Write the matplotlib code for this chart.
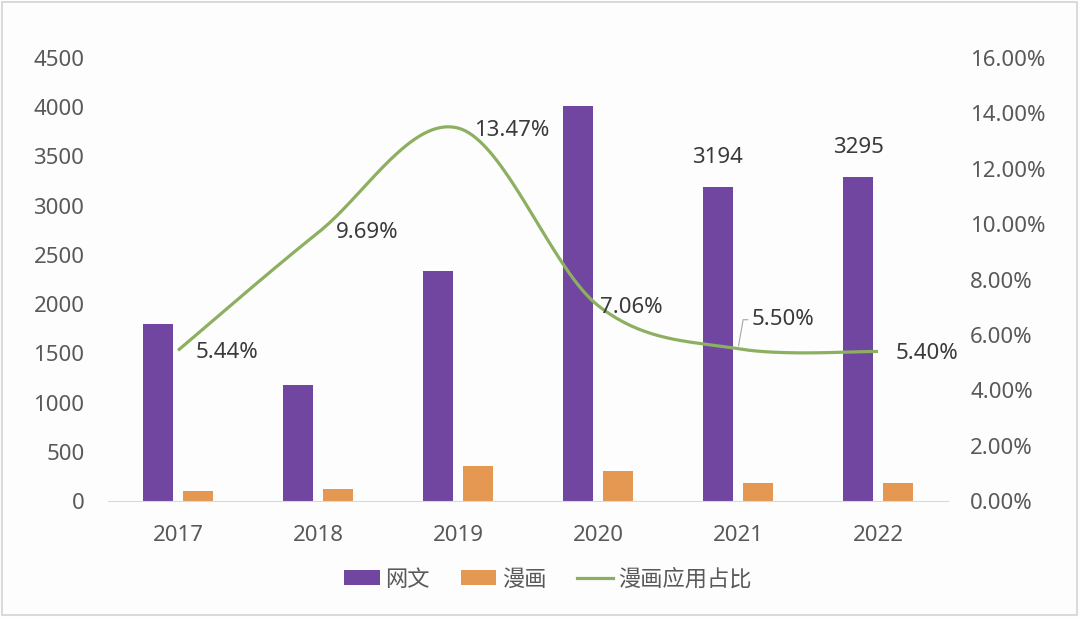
import numpy as np
import matplotlib.pyplot as plt
from matplotlib.patches import Rectangle
from matplotlib.ticker import FuncFormatter

plt.rcParams['font.family'] = ['Noto Sans', 'Noto Sans CJK SC', 'DejaVu Sans']

# 数据
years = ['2017', '2018', '2019', '2020', '2021', '2022']
wangwen = [1800, 1180, 2335, 4010, 3194, 3295]
manhua = [100, 120, 355, 305, 183, 185]
ratio = [5.44, 9.69, 13.47, 7.06, 5.50, 5.40]  # 漫画应用占比 (%)
bar_labels = ['', '', '', '', '3194', '3295']

c_purple = '#7046A0'
c_orange = '#E49852'
c_green = '#8CB060'
c_tick = '#595959'
c_label = '#3a3a3a'
fs = 16

fig = plt.figure(figsize=(10.8, 6.17), dpi=100, facecolor='#fdfdfd')
ax = fig.add_axes([0.1, 0.188, 0.7778, 0.718])
ax.set_facecolor('none')

x = np.arange(len(years))
w = 0.215
ax.bar(x - 0.143, wangwen, w, color=c_purple, label='网文', zorder=2)
ax.bar(x + 0.143, manhua, w, color=c_orange, label='漫画', zorder=2)

ax.set_xlim(-0.5, len(years) - 0.5)
ax.set_ylim(0, 4500)
ax.set_yticks(range(0, 4501, 500))
ax.set_xticks(x)
ax.set_xticklabels(years)
for s in ['top', 'left', 'right']:
    ax.spines[s].set_visible(False)
ax.spines['bottom'].set_color('#d9d9d9')
ax.tick_params(axis='both', length=0, labelsize=fs, labelcolor=c_tick)
ax.tick_params(axis='y', pad=17)
ax.tick_params(axis='x', pad=17)

for i, t in enumerate(bar_labels):
    if t:
        ax.annotate(t, (x[i] - 0.143, wangwen[i]), xytext=(0, 29),
                    textcoords='offset pixels', ha='center', va='center',
                    fontsize=fs, color=c_label)

# 右轴: 平滑曲线 (类似 Excel 平滑线)
ax2 = ax.twinx()
ax2.set_ylim(0, 16)
ax2.set_yticks(range(0, 17, 2))
ax2.yaxis.set_major_formatter(FuncFormatter(lambda v, p: f'{v:.2f}%'))
for s in ['top', 'left', 'right', 'bottom']:
    ax2.spines[s].set_visible(False)
ax2.tick_params(axis='y', length=0, labelsize=fs, labelcolor=c_tick, pad=16)

pts = np.column_stack([x, ratio]).astype(float)
xs, ys = [], []
for i in range(len(pts) - 1):
    p0 = pts[max(i - 1, 0)]
    p1 = pts[i]
    p2 = pts[i + 1]
    p3 = pts[min(i + 2, len(pts) - 1)]
    c1 = p1 + (p2 - p0) / 6
    c2 = p2 - (p3 - p1) / 6
    t = np.linspace(0, 1, 40)[:, None]
    seg = ((1 - t) ** 3) * p1 + 3 * ((1 - t) ** 2) * t * c1 + 3 * (1 - t) * t ** 2 * c2 + t ** 3 * p2
    xs.extend(seg[:, 0])
    ys.extend(seg[:, 1])
ax2.plot(xs, ys, color=c_green, lw=2.3, solid_capstyle='butt', zorder=3)

offsets = [(18, -2), (18, 0), (16, -2), (2, -2), (14, 29), (18, -2)]
for i, v in enumerate(ratio):
    dx, dy = offsets[i]
    if i == 4:
        ax2.annotate(f'{v:.2f}%', (x[i], v), xytext=(dx, dy), textcoords='offset pixels',
                     ha='left', va='center', fontsize=fs, color=c_label,
                     arrowprops=dict(arrowstyle='-', color='#a6a6a6', lw=0.8,
                                     connectionstyle='angle,angleA=180,angleB=80,rad=0',
                                     shrinkA=1, shrinkB=2))
    else:
        ax2.annotate(f'{v:.2f}%', (x[i], v), xytext=(dx, dy), textcoords='offset pixels',
                     ha='left', va='center', fontsize=fs, color=c_label)

h1, l1 = ax.get_legend_handles_labels()
h2 = [plt.Line2D([], [], color=c_green, lw=2.3)]
fig.legend(h1 + h2, l1 + ['漫画应用占比'], loc='center', ncol=3,
           bbox_to_anchor=(548 / 1080, 1 - 580 / 617), frameon=False,
           fontsize=fs, labelcolor=c_tick, handlelength=1.6, handleheight=0.65,
           handletextpad=0.25, columnspacing=1.4)

fig.patches.append(Rectangle((0.002, 0.003), 0.995, 0.994, transform=fig.transFigure,
                             fill=False, edgecolor='#d4d4d4', lw=1.2))

fig.savefig('out.png', dpi=100, facecolor=fig.get_facecolor())
